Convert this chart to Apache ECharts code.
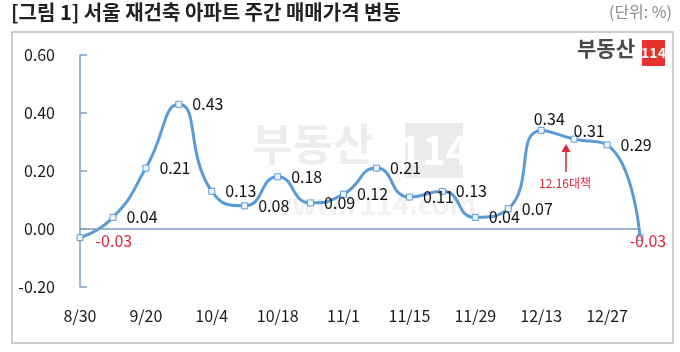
<!DOCTYPE html>
<html>
<head>
<meta charset="utf-8">
<title>서울 재건축 아파트 주간 매매가격 변동</title>
<script src="https://cdn.jsdelivr.net/npm/echarts@6/dist/echarts.min.js"></script>
<style>
  html, body { margin: 0; padding: 0; background: #fff; }
  #chart { width: 680px; height: 352px; }
</style>
</head>
<body>
<div id="chart"></div>
<script type="text/javascript">
    // 주간 데이터 (9/13 주는 추석으로 없음)
    var weeks = ['8/30', '9/6', '9/20', '9/27', '10/4', '10/11', '10/18', '10/25', '11/1', '11/8',
        '11/15', '11/22', '11/29', '12/6', '12/13', '12/20', '12/27', '1/3'];
    var change = [-0.03, 0.04, 0.21, 0.43, 0.13, 0.08, 0.18, 0.09, 0.12, 0.21,
        0.11, 0.13, 0.04, 0.07, 0.34, 0.31, 0.29, -0.03];
    var yTicks = [-0.2, 0, 0.2, 0.4, 0.6];

    var FONT = '"Noto Sans CJK KR", "Noto Sans", sans-serif';
    var blue = '#5b9bd5';
    var axisBlue = '#7f9cbd';

    // 라벨 위치 보정 (겹치는 곳만)
    var labelShift = { 0: [2, 3], 14: [-21, -11], 15: [-14, -8], 17: [-24, 3] };

    var seriesData = change.map(function (v, i) {
        var item = { value: v };
        var lab = { color: v < 0 ? '#e0283c' : '#111' };
        if (labelShift[i]) lab.offset = labelShift[i];
        item.label = lab;
        return item;
    });

    var myChart = echarts.init(document.getElementById('chart'));
    myChart.setOption({
        animation: false,
        textStyle: { fontFamily: FONT },
        grid: { left: 80, right: 40, top: 55, bottom: 65 },
        xAxis: {
            type: 'category',
            data: weeks,
            boundaryGap: false,
            axisLine: { show: false, onZero: false },
            axisTick: { show: false },
            axisLabel: { interval: 1, margin: 21, fontSize: 16, color: '#1a1a1a', fontFamily: FONT }
        },
        yAxis: {
            type: 'value',
            min: yTicks[0],
            max: yTicks[yTicks.length - 1],
            interval: 0.2,
            axisLine: { show: true, lineStyle: { color: axisBlue, width: 1.5 } },
            axisTick: { show: true, inside: true, length: 7, lineStyle: { color: axisBlue, width: 1.5 } },
            splitLine: { show: false },
            axisLabel: {
                margin: 25, fontSize: 16, color: '#1a1a1a', fontFamily: FONT,
                formatter: function (v) { return v.toFixed(2); }
            }
        },
        series: [{
            type: 'line',
            data: seriesData,
            smooth: 0.55,
            symbol: 'rect',
            symbolSize: 6,
            lineStyle: { color: blue, width: 3 },
            itemStyle: { color: '#eef4fb', borderColor: blue, borderWidth: 1 },
            label: {
                show: true,
                position: 'right',
                distance: 10,
                fontSize: 16,
                fontFamily: FONT,
                formatter: function (p) { return p.value.toFixed(2); }
            },
            markLine: {
                silent: true,
                symbol: 'none',
                label: { show: false },
                lineStyle: { color: axisBlue, width: 1.5, type: 'solid' },
                data: [{ yAxis: 0 }]
            },
            z: 3
        }],
        graphic: [
            // 바깥 테두리
            { type: 'rect', shape: { x: 12, y: 32, width: 661, height: 311 },
              style: { fill: 'none', stroke: '#bdbdbd', lineWidth: 1.5 }, z: -10 },
            // 제목
            { type: 'text', left: 11, top: 2,
              style: { text: '[그림 1] 서울 재건축 아파트 주간 매매가격 변동', fill: '#222',
                       font: 'bold 20px ' + FONT } },
            { type: 'text', right: 8, top: 4,
              style: { text: '(단위: %)', fill: '#8a8a8a', font: '16px ' + FONT } },
            // 로고
            { type: 'text', left: 577, top: 38,
              style: { text: '부동산', fill: '#4a4a4a', font: 'bold 21px ' + FONT } },
            { type: 'rect', shape: { x: 642, y: 40, width: 23, height: 26 },
              style: { fill: '#e8322c' } },
            { type: 'text', x: 653.5, y: 53,
              style: { text: '114', fill: '#fff', font: 'bold 14px ' + FONT, align: 'center', verticalAlign: 'middle' } },
            // 워터마크
            { type: 'text', left: 252, top: 122, z: -5,
              style: { text: '부동산', fill: '#ededed', font: 'bold 44px ' + FONT } },
            { type: 'rect', shape: { x: 405, y: 123, width: 58, height: 55 }, z: -5,
              style: { fill: '#ebebeb' } },
            { type: 'text', x: 434, y: 150, z: -5,
              style: { text: '114', fill: '#fff', font: 'bold 40px ' + FONT, align: 'center', verticalAlign: 'middle' } },
            { type: 'text', left: 268, top: 190, z: -5,
              style: { text: 'www.r114.com', fill: '#f1f1f1', font: 'bold 28px ' + FONT } },
            // 12.16대책 주석
            { type: 'line', shape: { x1: 566, y1: 172, x2: 566, y2: 150 },
              style: { stroke: '#e0283c', lineWidth: 1.5 } },
            { type: 'polygon', shape: { points: [[566, 144], [561.5, 152], [570.5, 152]] },
              style: { fill: '#e0283c' } },
            { type: 'text', x: 565, y: 183,
              style: { text: '12.16대책', fill: '#e0283c', font: '12px ' + FONT, align: 'center', verticalAlign: 'middle' } }
        ]
    });
</script>
</body>
</html>
